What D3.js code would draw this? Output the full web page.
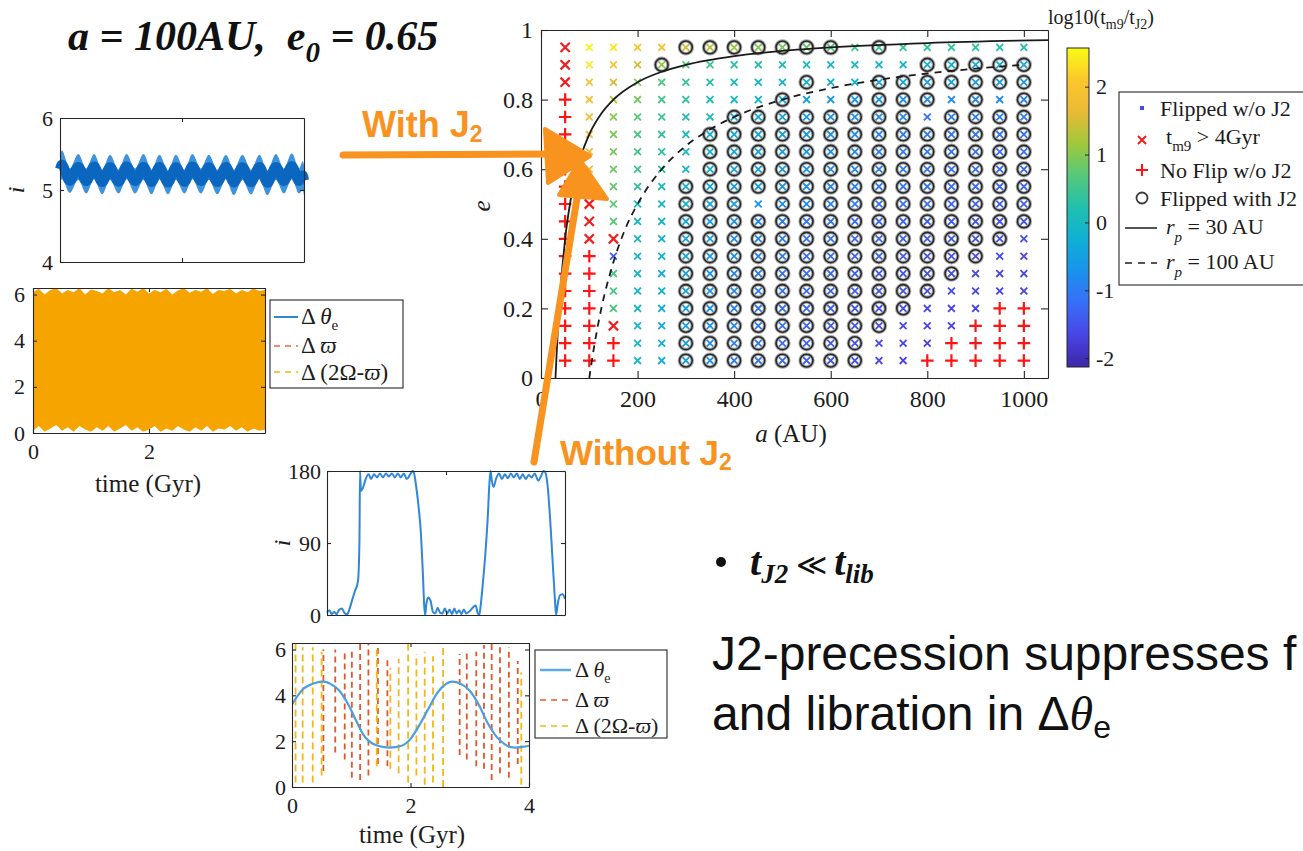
<!DOCTYPE html>
<html>
<head>
<meta charset="utf-8">
<title>Flip outcomes with and without J2 precession</title>
<script src="https://cdn.jsdelivr.net/npm/d3@7/dist/d3.min.js"></script>
<style>
  html, body { margin: 0; padding: 0; background: #ffffff; }
  svg { display: block; }
  text { white-space: pre; }
</style>
</head>
<body>
<svg id="fig" width="1303" height="851" xmlns="http://www.w3.org/2000/svg"></svg>
<script>
// ---------------- grid of runs: semi-major axis (AU) x initial eccentricity ----------------
const semiMajorAxis = [50, 100, 150, 200, 250, 300, 350, 400, 450, 500, 550, 600, 650, 700, 750, 800, 850, 900, 950, 1000];
const eccentricity = [0.95, 0.90, 0.85, 0.80, 0.75, 0.70, 0.65, 0.60, 0.55, 0.50, 0.45, 0.40, 0.35, 0.30, 0.25, 0.20, 0.15, 0.10, 0.05];

// outcome per run, one character per semi-major axis:
// x = flipped w/o J2, R = t_m9 > 4 Gyr, + = no flip w/o J2, o = flipped with J2
const outcomeRows = [
  "Rxxxxoooooooxoxxxxxx",
  "Rxxxoxxxxxxxxxxooooo",
  "Rxxxxxxxxxoxxooooooo",
  "+xxxxxxxxoxxooooxoxo",
  "+xxxxxxooooooooxoooo",
  "+xxxxxoooooooooooooo",
  "+xxxxxoooooooooooooo",
  "+xxxxxoooooooooooooo",
  "+Rxxxooooooooooooooo",
  "+Rxxxoooxooooooooooo",
  "+Rxxxooooooooooooooo",
  "+RRxxoooooooooooooox",
  "++xxxoooooooooooooxx",
  "++xxxooooooooooooxxx",
  "++xxxoooooooooooxxxx",
  "++xxxooooooooooxxx++",
  "++Rxxoooooooooxxx+++",
  "+++xxooooooooxxx++++",
  "+++xxooooooooxx+++++"
];

// log10(t_m9 / t_J2) of each flipped run (null where the run is not colour coded)
const logTimeRatio = [
  [null, 2.5, 2.4, 2.1, 1.95, 1.5, 1.35, 1.15, 1.0, 0.9, 0.8, 0.7, 0.55, 0.5, 0.45, 0.4, 0.38, 0.35, 0.33, 0.3],
  [null, 2.4, 2.0, 1.5, 1.1, 0.65, 0.45, 0.3, 0.15, 0.1, 0.05, 0.0, -0.05, -0.1, -0.15, -0.25, -0.25, -0.3, -0.3, -0.35],
  [null, 2.0, 1.5, 1.0, 0.6, 0.4, 0.25, 0.05, -0.05, -0.1, -0.2, -0.3, -0.3, -0.4, -0.45, -0.5, -0.5, -0.55, -0.55, -0.6],
  [null, 1.9, 1.3, 0.9, 0.5, 0.35, 0.1, 0.0, -0.1, -0.35, -0.55, -0.6, -0.65, -0.7, -0.75, -0.8, -0.8, -0.85, -0.85, -0.9],
  [null, 1.85, 1.0, 0.7, 0.45, 0.15, 0.0, -0.25, -0.35, -0.45, -0.55, -0.65, -0.7, -0.8, -0.85, -1.1, -0.95, -1.0, -1.0, -1.05],
  [null, 1.8, 0.95, 0.6, 0.35, 0.05, -0.15, -0.3, -0.4, -0.5, -0.6, -0.7, -0.8, -0.85, -0.95, -1.0, -1.05, -1.1, -1.1, -1.15],
  [null, 1.75, 0.9, 0.5, 0.3, 0.0, -0.2, -0.35, -0.45, -0.55, -0.65, -0.75, -0.85, -0.95, -1.0, -1.05, -1.1, -1.15, -1.2, -1.2],
  [null, 1.7, 0.85, 0.45, 0.2, -0.05, -0.25, -0.4, -0.5, -0.6, -0.7, -0.8, -0.9, -1.0, -1.05, -1.1, -1.15, -1.2, -1.25, -1.25],
  [null, null, 0.8, 0.35, 0.1, -0.1, -0.3, -0.45, -0.55, -0.65, -0.75, -0.85, -0.95, -1.05, -1.1, -1.15, -1.2, -1.25, -1.3, -1.3],
  [null, null, 0.75, 0.05, -0.1, -0.2, -0.35, -0.5, -0.75, -0.7, -0.8, -0.9, -1.0, -1.1, -1.15, -1.2, -1.25, -1.3, -1.35, -1.35],
  [null, null, 0.7, 0.0, -0.15, -0.35, -0.5, -0.7, -0.85, -0.95, -1.05, -1.1, -1.2, -1.25, -1.3, -1.35, -1.4, -1.45, -1.5, -1.5],
  [null, null, null, -0.05, -0.2, -0.4, -0.55, -0.75, -0.9, -1.0, -1.1, -1.15, -1.25, -1.3, -1.35, -1.4, -1.45, -1.5, -1.55, -1.55],
  [null, null, -1.4, -0.05, -0.2, -0.4, -0.6, -0.8, -0.95, -1.05, -1.15, -1.2, -1.3, -1.35, -1.4, -1.45, -1.5, -1.55, -1.6, -1.6],
  [null, null, 0.6, -0.05, -0.25, -0.45, -0.65, -0.85, -1.0, -1.1, -1.2, -1.25, -1.35, -1.4, -1.45, -1.5, -1.55, -1.6, -1.65, -1.65],
  [null, null, 0.55, -0.1, -0.25, -0.45, -0.65, -0.85, -1.0, -1.1, -1.2, -1.3, -1.4, -1.45, -1.5, -1.55, -1.6, -1.65, -1.7, -1.7],
  [null, null, 0.65, -0.1, -0.25, -0.5, -0.7, -0.9, -1.05, -1.15, -1.25, -1.35, -1.45, -1.5, -1.55, -1.6, -1.65, -1.7, null, null],
  [null, null, null, -0.1, -0.3, -0.5, -0.7, -0.9, -1.05, -1.15, -1.3, -1.4, -1.5, -1.55, -1.6, -1.65, -1.7, null, null, null],
  [null, null, null, -0.1, -0.3, -0.5, -0.7, -0.9, -1.1, -1.2, -1.3, -1.4, -1.5, -1.6, -1.65, -1.7, null, null, null, null],
  [null, null, null, -0.1, -0.3, -0.5, -0.7, -0.95, -1.1, -1.2, -1.35, -1.45, -1.55, -1.6, -1.7, null, null, null, null, null]
];

// pericentre curves r_p = 30 AU and r_p = 100 AU in the (a, e) plane
const rp30A = [30, 32, 35, 40, 45, 50, 60, 70, 80, 100, 125, 150, 200, 250, 300, 400, 500, 600, 800, 1050];
const rp30E = [0, 0.06, 0.14, 0.25, 0.33, 0.40, 0.50, 0.57, 0.625, 0.70, 0.76, 0.80, 0.85, 0.88, 0.90, 0.925, 0.94, 0.95, 0.9625, 0.971];
const rp100A = [100, 110, 125, 150, 175, 200, 250, 300, 350, 400, 500, 600, 700, 800, 900, 1000];
const rp100E = [0, 0.09, 0.20, 0.333, 0.43, 0.50, 0.60, 0.667, 0.714, 0.75, 0.80, 0.833, 0.857, 0.875, 0.889, 0.90];

const mainXTicks = [0, 200, 400, 600, 800, 1000];
const mainYTicks = [0, 0.2, 0.4, 0.6, 0.8, 1];
const colourTicks = [-2, -1, 0, 1, 2];
const colourMin = -2.13, colourMax = 2.57;

// ---------------- a = 100 AU, e0 = 0.65 with J2 ----------------
// inclination band: times of successive crests / troughs with upper and lower edges (deg)
const incJ2Time  = [0.00, 0.03, 0.16, 0.30, 0.43, 0.56, 0.69, 0.82, 0.96, 1.09, 1.23, 1.37, 1.50, 1.63, 1.77, 1.90, 2.04, 2.17, 2.31, 2.44, 2.58, 2.72, 2.85, 2.99, 3.13, 3.27, 3.40, 3.54, 3.67, 3.80, 3.92, 3.98, 4.00];
const incJ2Upper = [5.48, 5.55, 5.30, 5.50, 5.30, 5.50, 5.28, 5.49, 5.28, 5.50, 5.30, 5.50, 5.28, 5.49, 5.27, 5.49, 5.28, 5.50, 5.30, 5.49, 5.28, 5.49, 5.28, 5.49, 5.28, 5.49, 5.27, 5.50, 5.30, 5.51, 5.30, 5.40, 5.35];
const incJ2Lower = [5.10, 5.15, 4.96, 5.14, 4.95, 5.15, 4.94, 5.14, 4.95, 5.15, 4.95, 5.14, 4.94, 5.15, 4.94, 5.14, 4.95, 5.15, 4.95, 5.14, 4.94, 5.15, 4.93, 5.14, 4.94, 5.15, 4.93, 5.14, 4.95, 5.15, 4.95, 5.00, 4.92];

// circulating angles: envelope of the densely filled band (rad)
const bandTime   = [0.0, 0.1, 0.2, 0.3, 0.4, 0.5, 0.6, 0.7, 0.8, 0.9, 1.0, 1.1, 1.2, 1.3, 1.4, 1.5, 1.6, 1.7, 1.8, 1.9, 2.0, 2.1, 2.2, 2.3, 2.4, 2.5, 2.6, 2.7, 2.8, 2.9, 3.0, 3.1, 3.2, 3.3, 3.4, 3.5, 3.6, 3.7, 3.8, 3.9, 4.0];
const bandTop    = [6.10, 6.25, 6.00, 6.20, 6.28, 6.05, 6.20, 6.10, 6.28, 6.00, 6.22, 6.15, 6.05, 6.28, 6.10, 6.20, 6.00, 6.25, 6.12, 6.28, 6.05, 6.20, 6.10, 6.25, 6.00, 6.18, 6.28, 6.08, 6.20, 6.12, 6.28, 6.02, 6.20, 6.15, 6.25, 6.05, 6.20, 6.10, 6.28, 6.15, 6.20];
const bandBottom = [0.10, 0.30, 0.05, 0.20, 0.35, 0.10, 0.25, 0.05, 0.30, 0.15, 0.05, 0.25, 0.10, 0.30, 0.05, 0.20, 0.35, 0.10, 0.25, 0.05, 0.15, 0.30, 0.05, 0.20, 0.10, 0.30, 0.15, 0.05, 0.25, 0.10, 0.30, 0.05, 0.20, 0.15, 0.30, 0.10, 0.25, 0.05, 0.20, 0.10, 0.15];

// ---------------- same orbit without J2 ----------------
const incNoJ2Time = [0.00, 0.04, 0.08, 0.12, 0.16, 0.20, 0.25, 0.30, 0.34, 0.38, 0.42, 0.47, 0.52, 0.545, 0.555, 0.57, 0.60, 0.65, 0.70, 0.74, 0.79, 0.84, 0.89, 0.94, 0.99, 1.04, 1.09, 1.14, 1.19, 1.24, 1.29, 1.34, 1.40, 1.44, 1.46, 1.50, 1.54, 1.58, 1.61, 1.635, 1.65, 1.67, 1.70, 1.74, 1.78, 1.82, 1.86, 1.90, 1.94, 1.98, 2.02, 2.06, 2.10, 2.14, 2.18, 2.22, 2.26, 2.30, 2.34, 2.40, 2.46, 2.50, 2.53, 2.56, 2.58, 2.62, 2.66, 2.70, 2.73, 2.75, 2.77, 2.80, 2.84, 2.89, 2.94, 2.99, 3.04, 3.09, 3.14, 3.19, 3.24, 3.29, 3.34, 3.39, 3.44, 3.49, 3.55, 3.60, 3.64, 3.67, 3.71, 3.75, 3.79, 3.83, 3.85, 3.88, 3.92, 3.96, 4.00];
const incNoJ2Value = [3, 6, 1, 4, 1, 6, 8, 2, 1, 8, 18, 30, 42, 90, 180, 155, 158, 170, 176, 170, 176, 172, 177, 172, 177, 173, 177, 172, 177, 172, 177, 170, 176, 180, 178, 160, 135, 100, 55, 10, 0, 14, 22, 18, 4, 2, 9, 3, 2, 8, 2, 7, 1, 8, 2, 6, 1, 7, 2, 5, 10, 12, 3, 0, 10, 40, 75, 120, 165, 180, 168, 160, 170, 177, 170, 176, 171, 177, 172, 177, 170, 176, 170, 175, 172, 177, 168, 174, 180, 178, 160, 120, 70, 20, 0, 15, 25, 26, 20];

const thetaTime  = [0.0, 0.1, 0.2, 0.3, 0.4, 0.53, 0.65, 0.8, 0.95, 1.1, 1.2, 1.3, 1.45, 1.65, 1.85, 2.0, 2.15, 2.3, 2.45, 2.6, 2.7, 2.85, 3.0, 3.15, 3.3, 3.45, 3.6, 3.75, 3.9, 4.0];
const thetaValue = [3.6, 4.0, 4.3, 4.45, 4.55, 4.6, 4.5, 4.2, 3.6, 2.8, 2.3, 2.0, 1.8, 1.72, 1.8, 2.1, 2.7, 3.4, 4.1, 4.5, 4.6, 4.5, 4.2, 3.6, 2.8, 2.2, 1.85, 1.72, 1.75, 1.8];

// fast sweeps of the circulating angles (time, lowest and highest value reached)
const varpiSweepTime = [0.53, 0.73, 0.89, 1.01, 1.15, 1.29, 1.45, 1.61, 2.83, 2.95, 3.11, 3.24, 3.37, 3.51, 3.66, 3.81];
const varpiSweepLow  = [0.7, 1.5, 1.2, 0.4, 0.3, 0.5, 1.0, 0.9, 1.4, 1.2, 0.9, 0.8, 0.3, 0.6, 0.4, 1.0];
const varpiSweepHigh = [6.0, 6.0, 6.0, 6.0, 6.28, 6.28, 6.1, 5.6, 5.8, 6.0, 5.9, 6.2, 6.28, 6.1, 6.1, 5.5];
const nodeSweepTime  = [0.06, 0.18, 0.35, 0.50, 1.43, 1.66, 1.80, 1.96, 2.10, 2.24, 2.38, 2.55, 3.87];
const nodeSweepLow   = [0.2, 0.2, 0.2, 0.5, 0.9, 0.8, 0.6, 0.2, 0.5, 0.1, 0.2, 0.0, 0.1];
const nodeSweepHigh  = [6.28, 6.1, 6.1, 5.9, 6.0, 5.2, 5.6, 6.28, 5.8, 5.9, 5.7, 6.28, 5.0];

// ---------------- helpers ----------------
const SERIF = "'Liberation Serif','Times New Roman','DejaVu Serif',serif";
const SANS = "'Liberation Sans',Arial,Helvetica,sans-serif";
const INK = "#262626";
const ORANGE = "#f7931e";
const TWO_PI = 2 * Math.PI;

const svg = d3.select("#fig");
svg.append("rect").attr("width", 1303).attr("height", 851).attr("fill", "#ffffff");

// parula-like colour map
const parulaStops = ["#3e26a8", "#4845e4", "#376ef7", "#1a92ec", "#0fb0d4", "#20bfae", "#55c87a", "#a0c83c", "#eab935", "#fcc62c", "#f9fb14"];
const colour = d3.scaleLinear()
  .domain(parulaStops.map((_, i) => colourMin + i * (colourMax - colourMin) / (parulaStops.length - 1)))
  .range(parulaStops)
  .interpolate(d3.interpolateRgb)
  .clamp(true);

function boxAxes(g, x, y, cfg) {
  const len = cfg.tick ?? 6;
  const [xl, xr] = x.range();
  const [yb, yt] = y.range();
  const style = sel => {
    sel.attr("font-family", null).attr("font-size", null);
    sel.select(".domain").attr("stroke", INK).attr("stroke-width", 1.1);
    sel.selectAll(".tick line").attr("stroke", INK).attr("stroke-width", 1.1);
    sel.selectAll(".tick text").attr("font-family", SERIF).attr("font-size", cfg.font).attr("fill", "#1c1c1c");
  };
  const axis = (gen, tr, ticks, labelled, fmt, pad) => {
    gen.tickValues(ticks).tickSizeInner(-len).tickSizeOuter(0).tickPadding(pad ?? 6)
      .tickFormat(labelled ? (fmt || (d => String(d))) : () => "");
    g.append("g").attr("transform", tr).call(gen).call(style);
  };
  axis(d3.axisBottom(x), `translate(0,${yb})`, cfg.xTicks, cfg.xLabels, cfg.xFormat, cfg.xPad);
  axis(d3.axisTop(x), `translate(0,${yt})`, cfg.xTicks, false);
  axis(d3.axisLeft(y), `translate(${xl},0)`, cfg.yTicks, cfg.yLabels, cfg.yFormat, cfg.yPad);
  axis(d3.axisRight(y), `translate(${xr},0)`, cfg.yTicks, false);
}

const crossPath = s => `M${-s},${-s}L${s},${s}M${-s},${s}L${s},${-s}`;
const plusPath = s => `M${-s},0H${s}M0,${-s}V${s}`;

function addText(parent, x, y, parts, base) {
  const t = parent.append("text").attr("x", x).attr("y", y)
    .attr("font-family", base.family || SERIF).attr("font-size", base.size)
    .attr("fill", base.fill || "#111")
    .attr("font-weight", base.weight || null).attr("font-style", base.style || null)
    .attr("text-anchor", base.anchor || null);
  parts.forEach(p => {
    const s = t.append("tspan").text(p.t);
    if (p.dy) s.attr("dy", p.dy);
    if (p.size) s.attr("font-size", p.size);
    if (p.style) s.attr("font-style", p.style);
    if (p.weight) s.attr("font-weight", p.weight);
    if (p.family) s.attr("font-family", p.family);
  });
  return t;
}

// ---------------- main (a, e) map ----------------
const mx = d3.scaleLinear().domain([0, 1050]).range([541, 1048]);
const my = d3.scaleLinear().domain([0, 1]).range([378, 30]);
const gm = svg.append("g");

const runs = [];
eccentricity.forEach((e, r) => semiMajorAxis.forEach((a, c) => {
  runs.push({ a, e, kind: outcomeRows[r][c], v: logTimeRatio[r][c] });
}));

boxAxes(gm, mx, my, {
  xTicks: mainXTicks, yTicks: mainYTicks, xLabels: true, yLabels: true,
  font: 24, tick: 7, xPad: 12, yPad: 8
});

const coloured = runs.filter(d => d.kind === "x" || d.kind === "o");
gm.append("g").selectAll("path").data(coloured).join("path")
  .attr("transform", d => `translate(${mx(d.a)},${my(d.e)})`)
  .attr("d", crossPath(3.4)).attr("fill", "none")
  .attr("stroke", d => colour(d.v)).attr("stroke-width", 1.8);

const ringed = runs.filter(d => d.kind === "o");
gm.append("g").selectAll("circle").data(ringed).join("circle")
  .attr("cx", d => mx(d.a)).attr("cy", d => my(d.e)).attr("r", 6.4)
  .attr("fill", "none").attr("stroke", "#9b9b9b").attr("stroke-width", 3.6).attr("stroke-opacity", 0.85);
gm.append("g").selectAll("circle").data(ringed).join("circle")
  .attr("cx", d => mx(d.a)).attr("cy", d => my(d.e)).attr("r", 6.4)
  .attr("fill", "none").attr("stroke", "#2a2a2a").attr("stroke-width", 1.6);

gm.append("g").selectAll("path").data(runs.filter(d => d.kind === "R")).join("path")
  .attr("transform", d => `translate(${mx(d.a)},${my(d.e)})`)
  .attr("d", crossPath(4.6)).attr("fill", "none")
  .attr("stroke", "#f01e1e").attr("stroke-width", 2.2);

gm.append("g").selectAll("path").data(runs.filter(d => d.kind === "+")).join("path")
  .attr("transform", d => `translate(${mx(d.a)},${my(d.e)})`)
  .attr("d", plusPath(6.3)).attr("fill", "none")
  .attr("stroke", "#ff1414").attr("stroke-width", 2.2);

const curve = d3.line().x(d => mx(d[0])).y(d => my(d[1])).curve(d3.curveMonotoneX);
gm.append("path").attr("d", curve(d3.zip(rp30A, rp30E)))
  .attr("fill", "none").attr("stroke", "#1a1a1a").attr("stroke-width", 1.8);
gm.append("path").attr("d", curve(d3.zip(rp100A, rp100E)))
  .attr("fill", "none").attr("stroke", "#1a1a1a").attr("stroke-width", 1.8).attr("stroke-dasharray", "7,6");

addText(gm, 791, 442, [{ t: "a", style: "italic" }, { t: " (AU)" }], { size: 25, anchor: "middle", fill: "#1c1c1c" });
addText(gm, 0, 0, [{ t: "e", style: "italic" }], { size: 25, anchor: "middle", fill: "#1c1c1c" })
  .attr("transform", "translate(490,206) rotate(-90)");

// colour bar
const cy = d3.scaleLinear().domain([colourMin, colourMax]).range([367, 48]);
const grad = svg.append("defs").append("linearGradient").attr("id", "cbar")
  .attr("x1", 0).attr("y1", 1).attr("x2", 0).attr("y2", 0);
d3.range(0, 1.0001, 0.05).forEach(f => {
  grad.append("stop").attr("offset", f).attr("stop-color", colour(colourMin + f * (colourMax - colourMin)));
});
const gc = svg.append("g");
gc.append("rect").attr("x", 1067).attr("y", cy(colourMax)).attr("width", 22)
  .attr("height", cy(colourMin) - cy(colourMax)).attr("fill", "url(#cbar)")
  .attr("stroke", INK).attr("stroke-width", 1);
const cAxis = d3.axisRight(cy).tickValues(colourTicks).tickSizeInner(-4).tickSizeOuter(0).tickPadding(7)
  .tickFormat(d => String(d));
gc.append("g").attr("transform", "translate(1089,0)").call(cAxis).call(sel => {
  sel.attr("font-family", null).attr("font-size", null);
  sel.select(".domain").remove();
  sel.selectAll(".tick line").attr("stroke", INK);
  sel.selectAll(".tick text").attr("font-family", SERIF).attr("font-size", 22).attr("fill", "#1c1c1c");
});
addText(gc, 1048, 24, [
  { t: "log10(t" }, { t: "m9", size: 14, dy: 5 }, { t: "/t", dy: -5 }, { t: "J2", size: 14, dy: 5 }, { t: ")", dy: -5 }
], { size: 20, fill: "#1c1c1c" });

// legend of the map
const gl = svg.append("g");
gl.append("rect").attr("x", 1119).attr("y", 92).attr("width", 200).attr("height", 193)
  .attr("fill", "#ffffff").attr("stroke", INK).attr("stroke-width", 1.1);
gl.append("rect").attr("x", 1140).attr("y", 106).attr("width", 4).attr("height", 4).attr("fill", colour(-1.6));
gl.append("path").attr("transform", "translate(1142,140)").attr("d", crossPath(4)).attr("stroke", "#f01e1e").attr("stroke-width", 2).attr("fill", "none");
gl.append("path").attr("transform", "translate(1142,170)").attr("d", plusPath(6)).attr("stroke", "#ff1414").attr("stroke-width", 2).attr("fill", "none");
gl.append("circle").attr("cx", 1142).attr("cy", 198).attr("r", 5.5).attr("fill", "none").attr("stroke", "#3a3a3a").attr("stroke-width", 1.8);
gl.append("line").attr("x1", 1125).attr("x2", 1157).attr("y1", 228).attr("y2", 228).attr("stroke", "#555").attr("stroke-width", 2);
gl.append("line").attr("x1", 1125).attr("x2", 1157).attr("y1", 263).attr("y2", 263).attr("stroke", "#555").attr("stroke-width", 2).attr("stroke-dasharray", "7,6");
const lg = { size: 22, fill: "#1c1c1c" };
addText(gl, 1160, 116, [{ t: "Flipped w/o J2" }], lg);
addText(gl, 1166, 144, [{ t: "t" }, { t: "m9", size: 15, dy: 7 }, { t: " > 4Gyr", dy: -7 }], lg);
addText(gl, 1160, 178, [{ t: "No Flip w/o J2" }], lg);
addText(gl, 1160, 206, [{ t: "Flipped with J2" }], lg);
addText(gl, 1166, 234, [{ t: "r", style: "italic" }, { t: "p", style: "italic", size: 15, dy: 8 }, { t: " = 30 AU", dy: -8 }], lg);
addText(gl, 1166, 269, [{ t: "r", style: "italic" }, { t: "p", style: "italic", size: 15, dy: 8 }, { t: " = 100 AU", dy: -8 }], lg);

// ---------------- title ----------------
addText(svg, 68, 50, [
  { t: "a = 100AU,  e" }, { t: "0", size: 29, dy: 12 }, { t: " = 0.65", dy: -12 }
], { size: 42, weight: "bold", style: "italic", fill: "#111" });

// ---------------- with J2: inclination ----------------
const ax1 = d3.scaleLinear().domain([0, 4]).range([60, 304]);
const ay1 = d3.scaleLinear().domain([4, 6]).range([262, 118]);
const g1 = svg.append("g");
const incBand = incJ2Time.map((t, i) => ({ t, hi: incJ2Upper[i], lo: incJ2Lower[i] }));
g1.append("path").attr("d", d3.area().x(d => ax1(d.t)).y0(d => ay1(d.lo)).y1(d => ay1(d.hi)).curve(d3.curveMonotoneX)(incBand))
  .attr("fill", "#3f93dc");
g1.append("path").attr("d", d3.line().x(d => ax1(d.t)).y(d => ay1((d.hi + d.lo) / 2)).curve(d3.curveMonotoneX)(incBand))
  .attr("fill", "none").attr("stroke", "#0b66c0").attr("stroke-width", 10).attr("stroke-linejoin", "round");
boxAxes(g1, ax1, ay1, { xTicks: [2], yTicks: [4, 5, 6], xLabels: false, yLabels: true, font: 22, tick: 4, yPad: 7 });
addText(g1, 0, 0, [{ t: "i", style: "italic" }], { size: 24, anchor: "middle", fill: "#1c1c1c" })
  .attr("transform", "translate(24,190) rotate(-90)");

// ---------------- with J2: angles ----------------
const ax2 = d3.scaleLinear().domain([0, 4]).range([33, 265]);
const ay2 = d3.scaleLinear().domain([0, TWO_PI]).range([433, 288]);
const g2 = svg.append("g");
const band = bandTime.map((t, i) => ({ t, hi: bandTop[i], lo: bandBottom[i] }));
g2.append("path").attr("d", d3.area().x(d => ax2(d.t)).y0(d => ay2(d.lo)).y1(d => ay2(d.hi))(band))
  .attr("fill", "#f6a400");
boxAxes(g2, ax2, ay2, {
  xTicks: [0, 2, 4], yTicks: [0, 2, 4, 6], xLabels: true, yLabels: true, font: 22, tick: 4,
  xPad: 10, yPad: 8, xFormat: d => (d === 4 ? "" : String(d))
});
addText(g2, 148, 492, [{ t: "time (Gyr)" }], { size: 25, anchor: "middle", fill: "#1c1c1c" });
const lg2 = svg.append("g");
lg2.append("rect").attr("x", 270).attr("y", 300).attr("width", 133).attr("height", 88)
  .attr("fill", "#fff").attr("stroke", INK).attr("stroke-width", 1.1);
lg2.append("line").attr("x1", 274).attr("x2", 298).attr("y1", 317).attr("y2", 317).attr("stroke", "#2e86d6").attr("stroke-width", 2);
lg2.append("line").attr("x1", 274).attr("x2", 298).attr("y1", 346).attr("y2", 346).attr("stroke", "#f08a6a").attr("stroke-width", 2).attr("stroke-dasharray", "6,5");
lg2.append("line").attr("x1", 274).attr("x2", 298).attr("y1", 372).attr("y2", 372).attr("stroke", "#f2c948").attr("stroke-width", 2).attr("stroke-dasharray", "6,5");
addText(lg2, 301, 324, [{ t: "Δ " }, { t: "θ", style: "italic" }, { t: "e", size: 15, dy: 6 }], { size: 23, fill: "#1c1c1c" });
addText(lg2, 301, 353, [{ t: "Δ " }, { t: "ϖ", style: "italic" }], { size: 23, fill: "#1c1c1c" });
addText(lg2, 301, 380, [{ t: "Δ (2Ω-" }, { t: "ϖ", style: "italic" }, { t: ")" }], { size: 23, fill: "#1c1c1c" });

// ---------------- without J2: inclination ----------------
const ax3 = d3.scaleLinear().domain([0, 4]).range([327, 565]);
const ay3 = d3.scaleLinear().domain([0, 180]).range([615, 471]);
const g3 = svg.append("g");
g3.append("path").attr("d", d3.line().x(d => ax3(d[0])).y(d => ay3(d[1])).curve(d3.curveMonotoneX)(d3.zip(incNoJ2Time, incNoJ2Value)))
  .attr("fill", "none").attr("stroke", "#2f87d8").attr("stroke-width", 2);
boxAxes(g3, ax3, ay3, { xTicks: [2], yTicks: [0, 90, 180], xLabels: false, yLabels: true, font: 22, tick: 4, yPad: 6 });
addText(g3, 0, 0, [{ t: "i", style: "italic" }], { size: 24, anchor: "middle", fill: "#1c1c1c" })
  .attr("transform", "translate(290,543) rotate(-90)");

// ---------------- without J2: angles ----------------
const ax4 = d3.scaleLinear().domain([0, 4]).range([292, 529]);
const ay4 = d3.scaleLinear().domain([0, TWO_PI]).range([787, 643]);
const g4 = svg.append("g");
const clip = svg.append("defs").append("clipPath").attr("id", "clip4");
clip.append("rect").attr("x", 292).attr("y", 643).attr("width", 237).attr("height", 144);
const sweeps = g4.append("g").attr("clip-path", "url(#clip4)");
sweeps.selectAll("line.varpi").data(d3.zip(varpiSweepTime, varpiSweepLow, varpiSweepHigh)).join("line")
  .attr("x1", d => ax4(d[0])).attr("x2", d => ax4(d[0])).attr("y1", d => ay4(d[1])).attr("y2", d => ay4(d[2]))
  .attr("stroke", "#e2572a").attr("stroke-width", 1.8).attr("stroke-dasharray", "6,4");
sweeps.selectAll("line.node").data(d3.zip(nodeSweepTime, nodeSweepLow, nodeSweepHigh)).join("line")
  .attr("x1", d => ax4(d[0])).attr("x2", d => ax4(d[0])).attr("y1", d => ay4(d[1])).attr("y2", d => ay4(d[2]))
  .attr("stroke", "#f0b81e").attr("stroke-width", 1.8).attr("stroke-dasharray", "7,4");
sweeps.append("path").attr("d", d3.line().x(d => ax4(d[0])).y(d => ay4(d[1])).curve(d3.curveMonotoneX)(d3.zip(thetaTime, thetaValue)))
  .attr("fill", "none").attr("stroke", "#4a9fe0").attr("stroke-width", 2.2);
boxAxes(g4, ax4, ay4, {
  xTicks: [0, 2, 4], yTicks: [0, 2, 4, 6], xLabels: true, yLabels: true, font: 22, tick: 4, xPad: 10, yPad: 6
});
addText(g4, 412, 843, [{ t: "time (Gyr)" }], { size: 25, anchor: "middle", fill: "#1c1c1c" });
const lg4 = svg.append("g");
lg4.append("rect").attr("x", 535).attr("y", 650).attr("width", 132).attr("height", 88)
  .attr("fill", "#fff").attr("stroke", INK).attr("stroke-width", 1.1);
lg4.append("line").attr("x1", 540).attr("x2", 571).attr("y1", 670).attr("y2", 670).attr("stroke", "#5aaae6").attr("stroke-width", 2.5);
lg4.append("line").attr("x1", 540).attr("x2", 571).attr("y1", 700).attr("y2", 700).attr("stroke", "#f08060").attr("stroke-width", 2).attr("stroke-dasharray", "6,5");
lg4.append("line").attr("x1", 540).attr("x2", 571).attr("y1", 726).attr("y2", 726).attr("stroke", "#f5cc50").attr("stroke-width", 2).attr("stroke-dasharray", "6,5");
addText(lg4, 575, 677, [{ t: "Δ " }, { t: "θ", style: "italic" }, { t: "e", size: 14, dy: 6 }], { size: 22, fill: "#1c1c1c" });
addText(lg4, 575, 707, [{ t: "Δ " }, { t: "ϖ", style: "italic" }], { size: 22, fill: "#1c1c1c" });
addText(lg4, 575, 733, [{ t: "Δ (2Ω-" }, { t: "ϖ", style: "italic" }, { t: ")" }], { size: 22, fill: "#1c1c1c" });

// ---------------- annotations ----------------
const ga = svg.append("g");
ga.append("path").attr("d", "M343,155 L552,154")
  .attr("stroke", ORANGE).attr("stroke-width", 7).attr("stroke-linecap", "round").attr("fill", "none");
ga.append("path").attr("d", "M545,129 L590,156 L548,183 Z")
  .attr("fill", ORANGE).attr("stroke", ORANGE).attr("stroke-width", 4).attr("stroke-linejoin", "round");
ga.append("path").attr("d", "M534,462 L578,192")
  .attr("stroke", ORANGE).attr("stroke-width", 7).attr("stroke-linecap", "round").attr("fill", "none");
ga.append("path").attr("d", "M559,195 L580,160 L607,199 Z")
  .attr("fill", ORANGE).attr("stroke", ORANGE).attr("stroke-width", 4).attr("stroke-linejoin", "round");
addText(ga, 362, 137, [{ t: "With J" }, { t: "2", size: 23, dy: 5 }], { family: SANS, size: 36, weight: "bold", fill: ORANGE });
addText(ga, 560, 465, [{ t: "Without J" }, { t: "2", size: 23, dy: 5 }], { family: SANS, size: 35, weight: "bold", fill: ORANGE });

// ---------------- notes ----------------
svg.append("circle").attr("cx", 721).attr("cy", 562).attr("r", 5).attr("fill", "#111");
addText(svg, 750, 575, [
  { t: "t" }, { t: "J2", size: 27, dy: 8 }, { t: " ≪ ", dy: -8, size: 30, weight: "normal", style: "normal" }, { t: "t" }, { t: "lib", size: 27, dy: 8 }
], { size: 40, weight: "bold", style: "italic", fill: "#111" });
addText(svg, 712, 670, [{ t: "J2-precession suppresses f" }], { family: SANS, size: 48, fill: "#111" });
addText(svg, 712, 730, [
  { t: "and libration in Δ" }, { t: "θ", style: "italic", family: SERIF }, { t: "e", size: 32, dy: 8 }
], { family: SANS, size: 48, fill: "#111" });
</script>
</body>
</html>
